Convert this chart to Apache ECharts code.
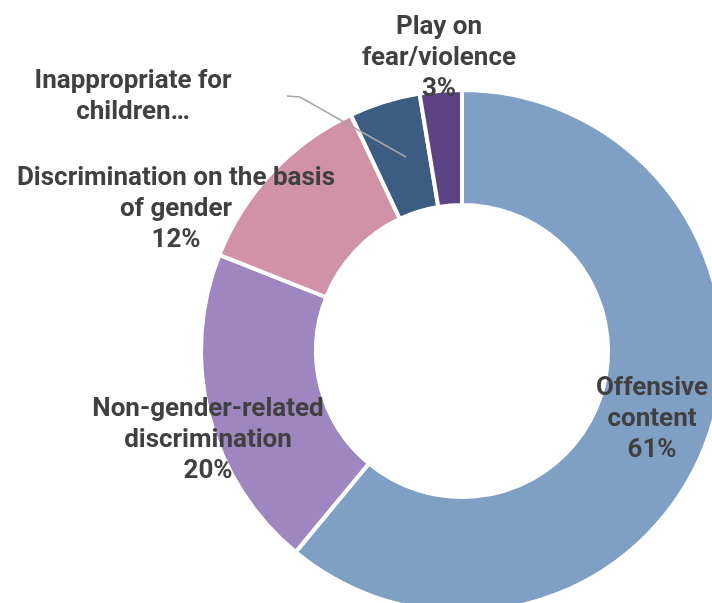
<!DOCTYPE html>
<html>
<head>
<meta charset="utf-8">
<style>html,body{margin:0;padding:0;background:#fff}#c{width:712px;height:603px}</style>
<script src="https://cdn.jsdelivr.net/npm/echarts@6/dist/echarts.min.js"></script>
</head>
<body>
<div id="c"></div>
<script>
var categories = ['Offensive content', 'Non-gender-related discrimination', 'Discrimination on the basis of gender', 'Inappropriate for children…', 'Play on fear/violence'];
var labelText = ['Offensive\ncontent', 'Non-gender-related\ndiscrimination', 'Discrimination on the basis\nof gender', 'Inappropriate for\nchildren…', 'Play on\nfear/violence'];
var values = [61, 20, 12, 4.4, 2.6];
var showPercent = [true, true, true, false, true];
var colors = ['#7F9FC4', '#9E86C1', '#D191A6', '#3D5C82', '#5C4383'];

// label anchor positions (layout only)
var labelPos = [[652, 419], [208, 440], [176, 209], [133, 97], [439, 58]];

var chart = echarts.init(document.getElementById('c'));
chart.setOption({
  animation: false,
  graphic: [{
    type: 'polyline',
    z: 100,
    shape: { points: [[287, 96], [300, 97], [406, 157]] },
    style: { stroke: '#A6A6A6', lineWidth: 1.5, fill: null }
  }],
  series: [{
    type: 'pie',
    center: [462, 351],
    radius: [146, 261],
    startAngle: 90,
    clockwise: true,
    avoidLabelOverlap: false,
    data: categories.map(function (n, i) {
      return { name: n, value: values[i], itemStyle: { color: colors[i] } };
    }),
    itemStyle: { borderColor: '#fff', borderWidth: 4 },
    label: {
      show: true,
      position: 'outside',
      fontFamily: 'Roboto',
      fontWeight: 'bold',
      fontSize: 26,
      lineHeight: 31,
      color: '#404040',
      align: 'center',
      formatter: function (p) {
        var t = labelText[p.dataIndex];
        if (showPercent[p.dataIndex]) t += '\n' + Math.round(p.percent) + '%';
        return t;
      }
    },
    labelLine: { show: false },
    labelLayout: function (p) {
      var pos = labelPos[p.dataIndex];
      return { x: pos[0], y: pos[1], align: 'center', verticalAlign: 'middle' };
    }
  }]
});
</script>
</body>
</html>
